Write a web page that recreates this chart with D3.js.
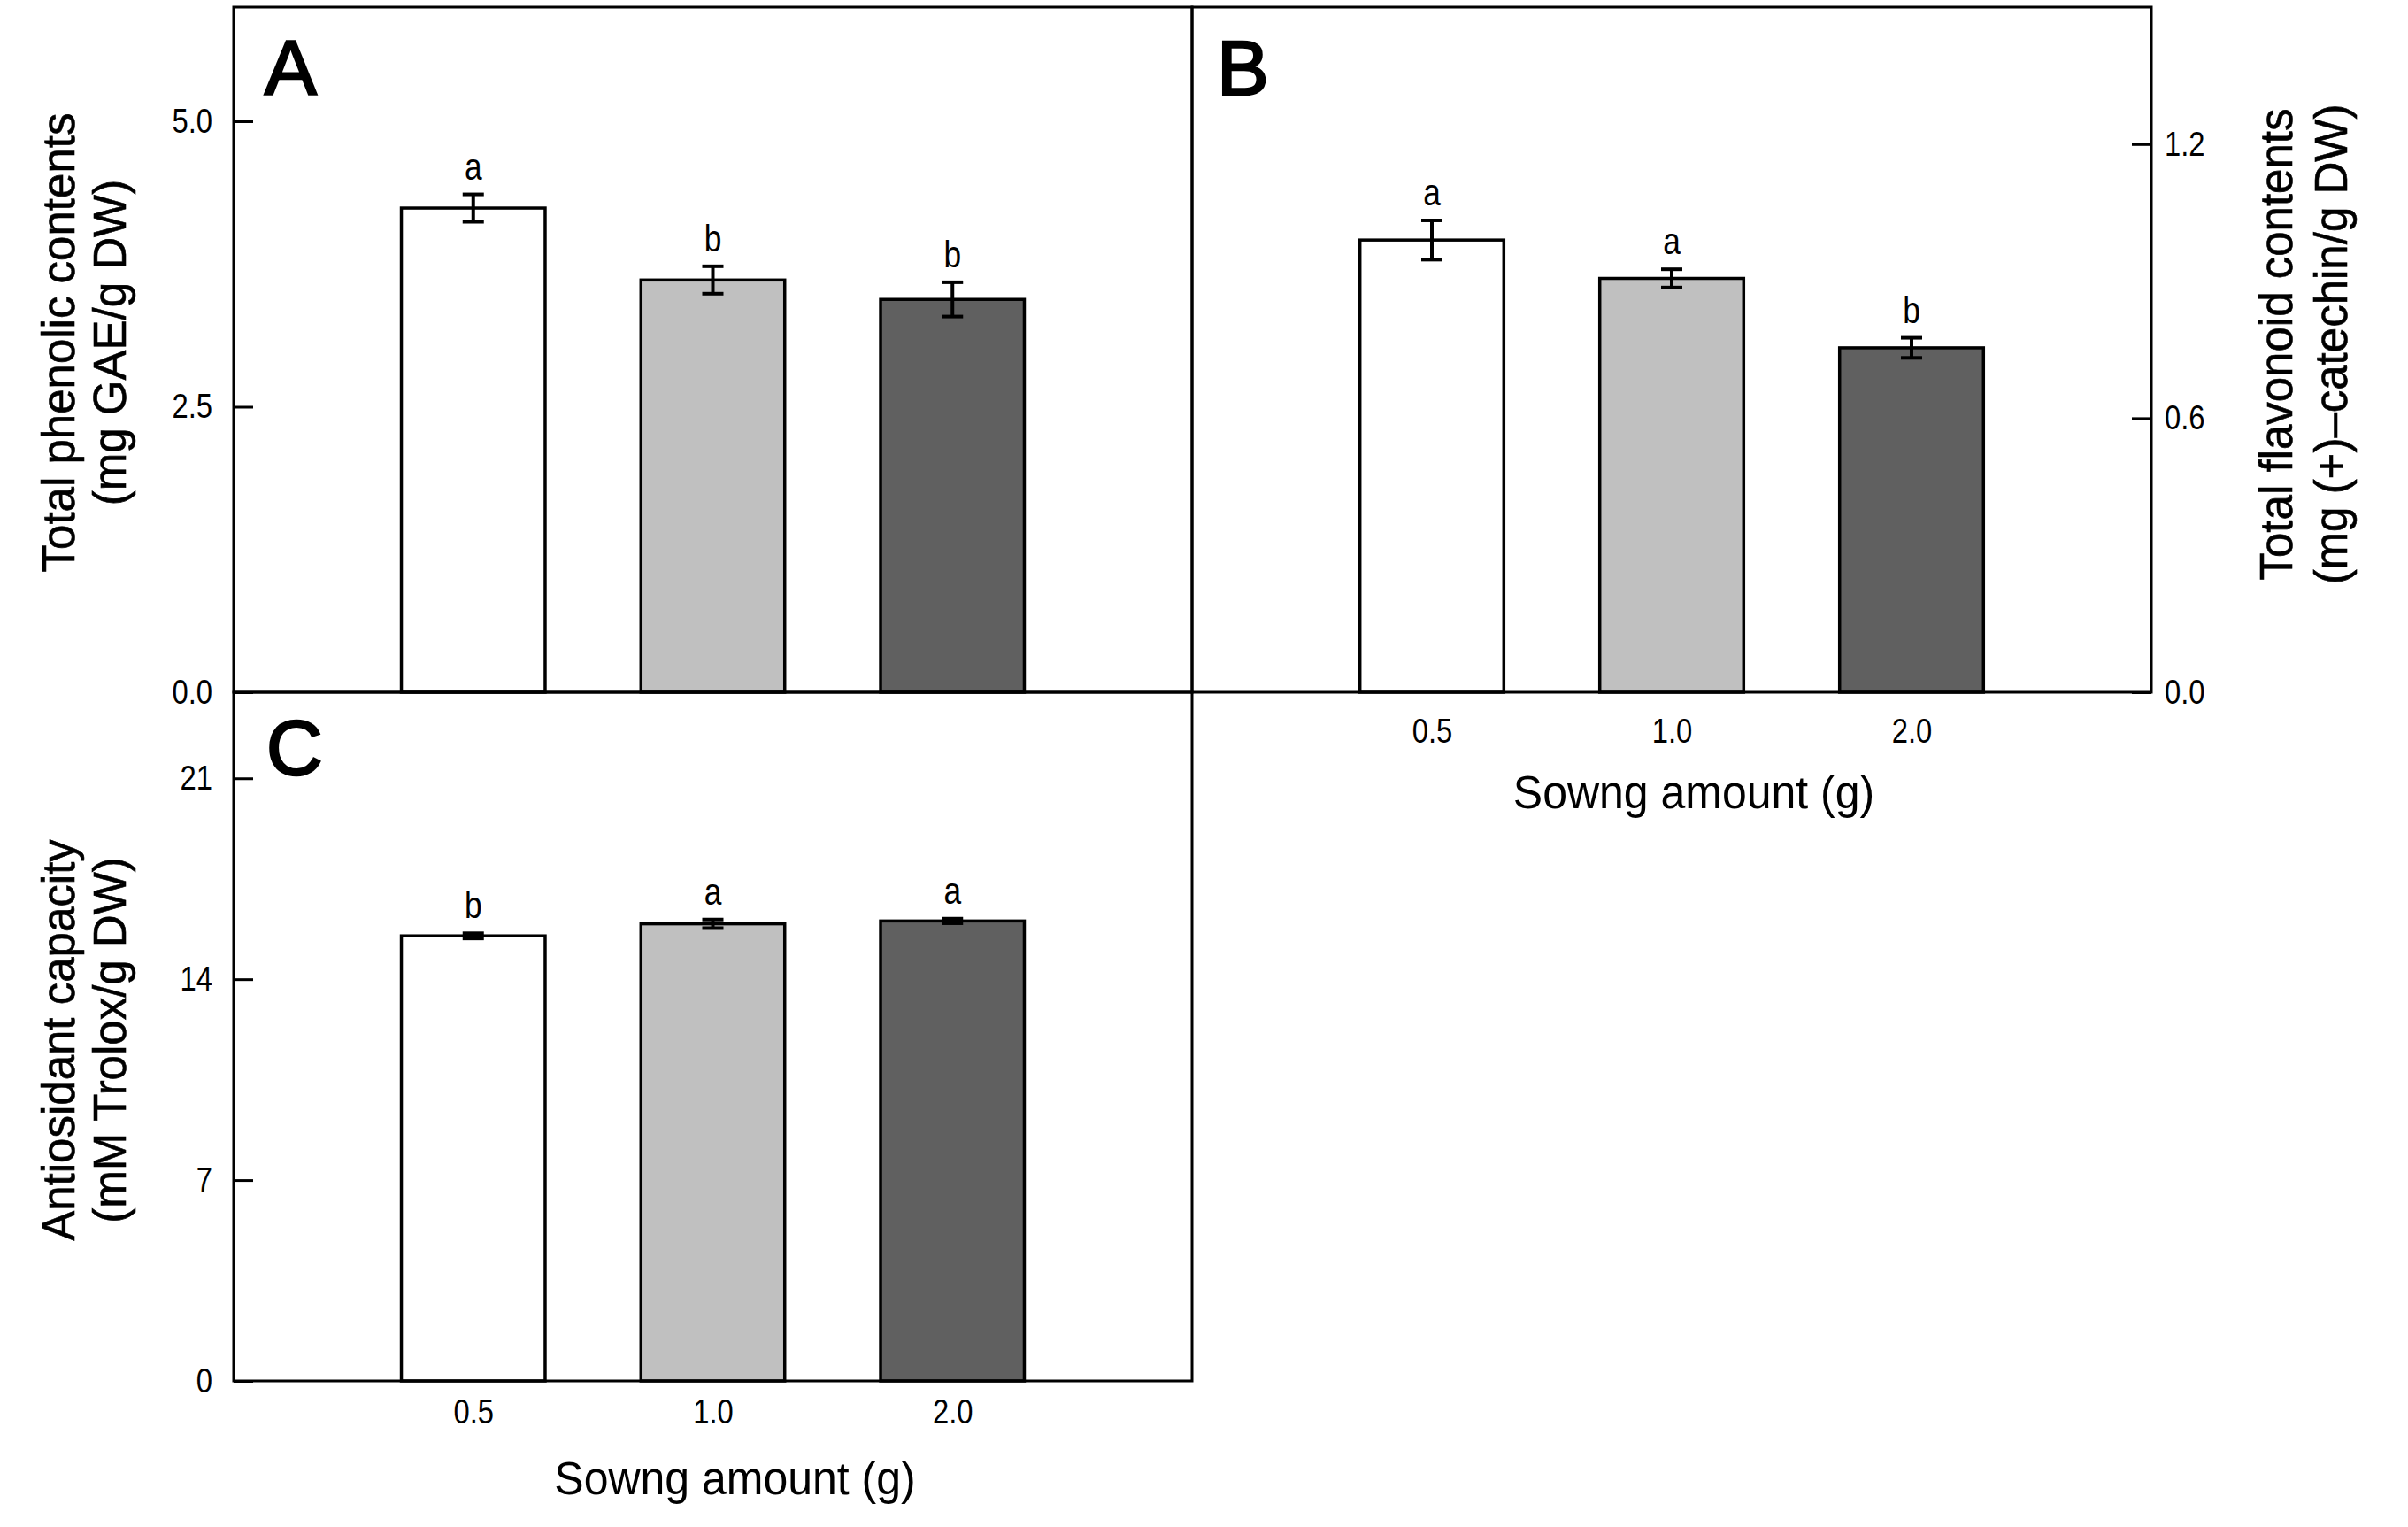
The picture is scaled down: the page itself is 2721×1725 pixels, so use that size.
<!DOCTYPE html>
<html>
<head>
<meta charset="utf-8">
<script src="https://cdn.jsdelivr.net/npm/d3@7"></script>
<style>
  body { margin: 0; background: #fff; }
  text { font-family: "Liberation Sans", Arial, sans-serif; fill: #000; }
</style>
</head>
<body>
<svg id="chart"></svg>
<script>
const width = 2721;
const height = 1725;

// categories (sowing amount, g)
const sowing = ["0.5", "1.0", "2.0"];
const barFills = ["#ffffff", "#c0c0c0", "#606060"];

// A: total phenolic contents
const phenolMean = [4.24, 3.61, 3.44];
const phenolErr = [0.12, 0.12, 0.15];
const phenolLetters = ["a", "b", "b"];
const phenolTicks = [0, 2.5, 5.0];

// B: total flavonoid contents
const flavMean = [0.990, 0.906, 0.754];
const flavErr = [0.043, 0.020, 0.022];
const flavLetters = ["a", "a", "b"];
const flavTicks = [0, 0.6, 1.2];

// C: antioxidant capacity
const antiMean = [15.51, 15.93, 16.03];
const antiErr = [0.09, 0.15, 0.08];
const antiLetters = ["b", "a", "a"];
const antiTicks = [0, 7, 14, 21];

const svg = d3.select("#chart")
    .attr("width", width)
    .attr("height", height);

// squeeze text horizontally to mimic the narrow font of the original
const narrow = (sel, k) => sel.each(function () {
    const len = this.getComputedTextLength();
    d3.select(this)
        .attr("textLength", len * k)
        .attr("lengthAdjust", "spacingAndGlyphs");
});

const drawPanel = (opt) => {
    const w = opt.x1 - opt.x0;
    const h = opt.y1 - opt.y0;
    const g = svg.append("g").attr("transform", `translate(${opt.x0},${opt.y0})`);

    const x = d3.scalePoint().domain(sowing).range([0, w]).padding(1);
    const y = d3.scaleLinear().domain([0, opt.max]).range([h, 0]);
    const bw = x.step() * 0.6;

    // bars
    g.selectAll(".bar")
        .data(opt.mean)
        .enter()
        .append("rect")
        .attr("x", (d, i) => x(sowing[i]) - bw / 2)
        .attr("y", d => y(d))
        .attr("width", bw)
        .attr("height", d => y(0) - y(d))
        .attr("fill", (d, i) => barFills[i])
        .attr("stroke", "#000")
        .attr("stroke-width", 3.5);

    // error bars
    const eb = g.selectAll(".err")
        .data(opt.mean)
        .enter()
        .append("g")
        .attr("stroke", "#000")
        .attr("stroke-width", 4);
    eb.append("line")
        .attr("x1", (d, i) => x(sowing[i]))
        .attr("x2", (d, i) => x(sowing[i]))
        .attr("y1", (d, i) => y(d + opt.err[i]))
        .attr("y2", (d, i) => y(d - opt.err[i]));
    [1, -1].forEach(s => {
        eb.append("line")
            .attr("x1", (d, i) => x(sowing[i]) - 12)
            .attr("x2", (d, i) => x(sowing[i]) + 12)
            .attr("y1", (d, i) => y(d + s * opt.err[i]))
            .attr("y2", (d, i) => y(d + s * opt.err[i]));
    });

    // significance letters
    g.selectAll(".letter")
        .data(opt.letters)
        .enter()
        .append("text")
        .attr("x", (d, i) => x(sowing[i]))
        .attr("y", (d, i) => y(opt.mean[i] + opt.err[i]) - 17)
        .attr("text-anchor", "middle")
        .style("font-size", "42px")
        .text(d => d)
        .call(narrow, 0.84);

    // y axis, ticks pointing inward
    const yAxis = (opt.side === "right" ? d3.axisRight(y) : d3.axisLeft(y))
        .tickValues(opt.ticks)
        .tickSize(-22)
        .tickPadding(opt.side === "right" ? 15 : 24)
        .tickFormat(d3.format(opt.fmt));
    const ya = g.append("g")
        .attr("transform", opt.side === "right" ? `translate(${w},0)` : null)
        .call(yAxis);
    ya.select(".domain").remove();
    ya.selectAll("line").attr("stroke-width", 3);
    ya.selectAll("text").style("font-size", "39px").call(narrow, 0.84);

    // x axis labels
    if (opt.xLabels) {
        const xa = g.append("g")
            .attr("transform", `translate(0,${h})`)
            .call(d3.axisBottom(x).tickSize(0).tickPadding(opt.xPad));
        xa.select(".domain").remove();
        xa.selectAll("text").style("font-size", "39px").call(narrow, 0.84);

        g.append("text")
            .attr("x", w / 2 + 25)
            .attr("y", h + opt.titleOffset)
            .attr("text-anchor", "middle")
            .style("font-size", "51px")
            .text("Sowng amount (g)")
            .call(narrow, 0.98);
    }

    // frame
    g.append("rect")
        .attr("width", w)
        .attr("height", h)
        .attr("fill", "none")
        .attr("stroke", "#000")
        .attr("stroke-width", 3);

    // panel letter
    g.append("text")
        .attr("x", opt.letterX)
        .attr("y", opt.letterY)
        .attr("stroke", "#000")
        .attr("stroke-width", 2.5)
        .style("font-size", "88px")
        .text(opt.name);

    // y title (two lines, rotated)
    opt.title.forEach((t, i) => {
        svg.append("text")
            .attr("transform", `translate(${opt.titleX[i]},${opt.titleY}) rotate(-90)`)
            .attr("text-anchor", "middle")
            .attr("stroke", "#000")
            .attr("stroke-width", 0.6)
            .style("font-size", "51px")
            .text(t);
    });
};

drawPanel({
    name: "A", x0: 264, x1: 1347, y0: 8, y1: 782, max: 6,
    mean: phenolMean, err: phenolErr, letters: phenolLetters, ticks: phenolTicks,
    fmt: ".1f", side: "left", xLabels: false,
    letterX: 35, letterY: 99,
    title: ["Total phenolic contents", "(mg GAE/g DW)"], titleX: [84, 142], titleY: 387
});

drawPanel({
    name: "B", x0: 1347, x1: 2431, y0: 8, y1: 782, max: 1.5,
    mean: flavMean, err: flavErr, letters: flavLetters, ticks: flavTicks,
    fmt: ".1f", side: "right", xLabels: true, xPad: 29, titleOffset: 131,
    letterX: 28, letterY: 99,
    title: ["Total flavonoid contents", "(mg (+)–catechin/g DW)"], titleX: [2590, 2652], titleY: 389
});

drawPanel({
    name: "C", x0: 264, x1: 1347, y0: 782, y1: 1560, max: 24,
    mean: antiMean, err: antiErr, letters: antiLetters, ticks: antiTicks,
    fmt: "d", side: "left", xLabels: true, xPad: 20, titleOffset: 128,
    letterX: 37, letterY: 93,
    title: ["Antiosidant capacity", "(mM Trolox/g DW)"], titleX: [84, 142], titleY: 1175
});
</script>
</body>
</html>
